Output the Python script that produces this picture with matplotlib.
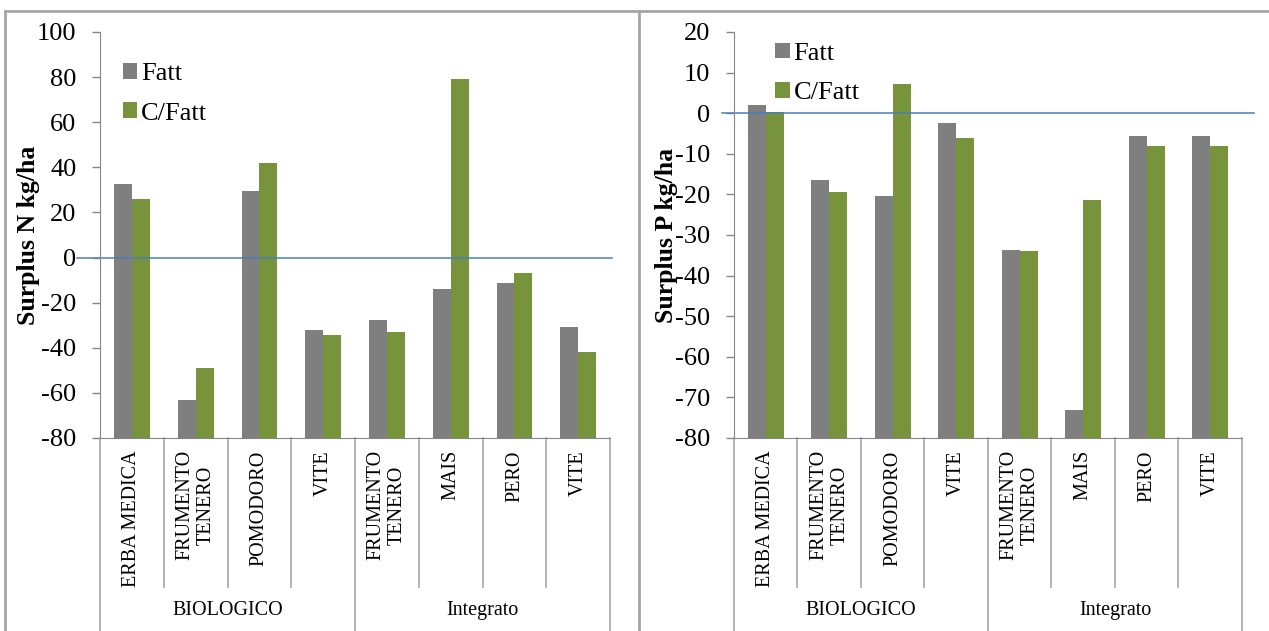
import numpy as np
import matplotlib
matplotlib.use('Agg')
import matplotlib.pyplot as plt
from matplotlib.lines import Line2D
import matplotlib.transforms as mtrans

plt.rcParams['font.family'] = 'Liberation Serif'
plt.rcParams['axes.unicode_minus'] = False

# Dati
colture = ['ERBA MEDICA', 'FRUMENTO\nTENERO', 'POMODORO', 'VITE',
           'FRUMENTO\nTENERO', 'MAIS', 'PERO', 'VITE']
gruppi = ['BIOLOGICO', 'Integrato']
n_gruppo = [4, 4]

n_fatt = [32.5, -63, 29.5, -32, -27.5, -14, -11.5, -31]
n_cfatt = [26, -49, 42, -34.5, -33, 79, -7, -42]

p_fatt = [2, -16.5, -20.5, -2.5, -33.8, -73, -5.7, -5.5]
p_cfatt = [0.3, -19.5, 7.3, -6, -34, -21.5, -8, -8]

grigio = '#7F7F7F'
verde = '#77933C'
linea = '#A6A6A6'


def pannello(fig, rect, fatt, cfatt, ymin, ymax, passo, ylabel, leg_xy, zero_x):
    ax = fig.add_axes(rect)
    x = np.arange(len(colture))
    w = 0.28
    ax.bar(x - w / 2, np.array(fatt) - ymin, bottom=ymin, width=w,
           color=grigio, label='Fatt')
    ax.bar(x + w / 2, np.array(cfatt) - ymin, bottom=ymin, width=w,
           color=verde, label='C/Fatt')
    tr_y = mtrans.blended_transform_factory(ax.transAxes, ax.transData)
    ax.add_line(Line2D(zero_x, [0, 0], transform=tr_y, color='#4A7EBB',
                       lw=1.1, clip_on=False))
    ax.set_xlim(-0.5, len(colture) - 0.5)
    ax.set_ylim(ymin, ymax)
    ax.set_yticks(np.arange(ymin, ymax + 1, passo))
    ax.tick_params(axis='y', labelsize=19, length=6, width=1, color='#868686',
                   direction='out', pad=11)
    ax.set_xticks([])
    for s in ['top', 'right']:
        ax.spines[s].set_visible(False)
    for s in ['left', 'bottom']:
        ax.spines[s].set_color('#868686')
    ax.set_ylabel(ylabel, fontsize=18.5, fontweight='bold', labelpad=-2)

    # asse categorie a due livelli
    tr = mtrans.blended_transform_factory(ax.transData, ax.transAxes)
    for i, c in enumerate(colture):
        ax.text(i, -0.03, c, transform=tr, rotation=90, ha='center',
                va='top', fontsize=14.5, multialignment='center',
                linespacing=1.15)
    for i in range(1, len(colture)):
        if i == n_gruppo[0]:
            continue
        ax.add_line(Line2D([i - 0.5, i - 0.5], [0, -0.367], transform=tr,
                           color=linea, lw=1.2, clip_on=False))
    start = 0
    for g, n in zip(gruppi, n_gruppo):
        ax.add_line(Line2D([start - 0.5, start - 0.5], [0, -0.48],
                           transform=tr, color=linea, lw=1.2, clip_on=False))
        ax.text(start + n / 2 - 0.5, -0.424, g, transform=tr, ha='center',
                va='center', fontsize=14.5)
        start += n
    ax.add_line(Line2D([start - 0.5, start - 0.5], [0, -0.48], transform=tr,
                       color=linea, lw=1.2, clip_on=False))

    ax.legend(loc='upper left', bbox_to_anchor=leg_xy, frameon=False,
              fontsize=19, labelspacing=0.65, handlelength=0.55,
              handleheight=0.55, handletextpad=0.15, borderaxespad=0)
    return ax


fig = plt.figure(figsize=(12.69, 6.31), dpi=100)

pannello(fig, [0.0788, 0.3059, 0.402, 0.6434], n_fatt, n_cfatt,
         -80, 100, 20, 'Surplus N kg/ha', (0.024, 0.95), [-0.045, 1.004])
pannello(fig, [0.5784, 0.3059, 0.4003, 0.6434], p_fatt, p_cfatt,
         -80, 20, 10, 'Surplus P kg/ha', (0.06, 1.0), [-0.024, 1.024])

# cornice esterna
fig.add_artist(Line2D([0.004, 0.004], [0, 0.9826], color=linea, lw=2))
fig.add_artist(Line2D([0.004, 1.0], [0.9826, 0.9826], color=linea, lw=2))
fig.add_artist(Line2D([0.5035, 0.5035], [0, 0.9826], color=linea, lw=2))

fig.savefig('out.png', dpi=100)
